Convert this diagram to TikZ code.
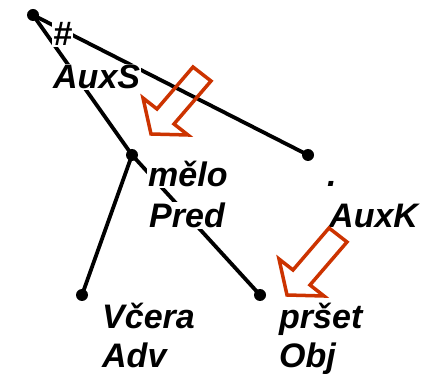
\documentclass[tikz,border=0pt]{standalone}
\usepackage{fontspec}
\setmainfont{Liberation Sans}
\definecolor{arrred}{RGB}{204,51,0}
\begin{document}
\begin{tikzpicture}[x=1pt,y=-1pt,
  edge/.style={line width=3.8pt},
  dotnode/.style={circle,fill=black,inner sep=0pt,minimum size=12pt},
  lbl/.style={anchor=base west,fill=white,inner sep=1pt,font=\fontsize{34}{40}\selectfont\bfseries\itshape},
  hollow/.style={draw=arrred,line width=3.5pt,line join=miter,fill=none}]
\useasboundingbox (0,0) rectangle (426,374);
% tree nodes (dots)
\coordinate (rootc) at (33,15);
\coordinate (meloc) at (132,155);
\coordinate (auxkc) at (308,155);
\coordinate (cerac) at (82,295);
\coordinate (prsc) at (260,295);
% edges
\draw[edge] (rootc) -- (auxkc);
\draw[edge] (rootc) -- (meloc);
\draw[edge] (meloc) -- (cerac);
\draw[edge] (meloc) -- (prsc);
% dots
\node[dotnode] (root) at (rootc) {};
\node[dotnode] (melo) at (meloc) {};
\node[dotnode] (auxk) at (auxkc) {};
\node[dotnode] (cera) at (cerac) {};
\node[dotnode] (prs) at (prsc) {};
% labels
\node[lbl] (t1) at (52,46) {\#};
\node[lbl] (t2) at (52,89) {AuxS};
\node[lbl] (t3) at (147,187) {mělo};
\node[lbl] (t4) at (148,228) {Pred};
\node[lbl] (t5) at (326,187) {.};
\node[lbl] (t6) at (328,228) {AuxK};
\node[lbl] (t7) at (101,328) {Včera};
\node[lbl] (t8) at (101,367) {Adv};
\node[lbl] (t9) at (278,328) {pršet};
\node[lbl] (t10) at (278,367) {Obj};
% red hollow arrows
\draw[hollow] (193,67) -- (211,81) -- (174,124) -- (188,135) -- (151,134) -- (143,98) -- (157,109) -- cycle;
\draw[hollow,shift={(136,161)}] (193,67) -- (211,81) -- (174,124) -- (188,135) -- (151,134) -- (143,98) -- (157,109) -- cycle;
\end{tikzpicture}
\end{document}
